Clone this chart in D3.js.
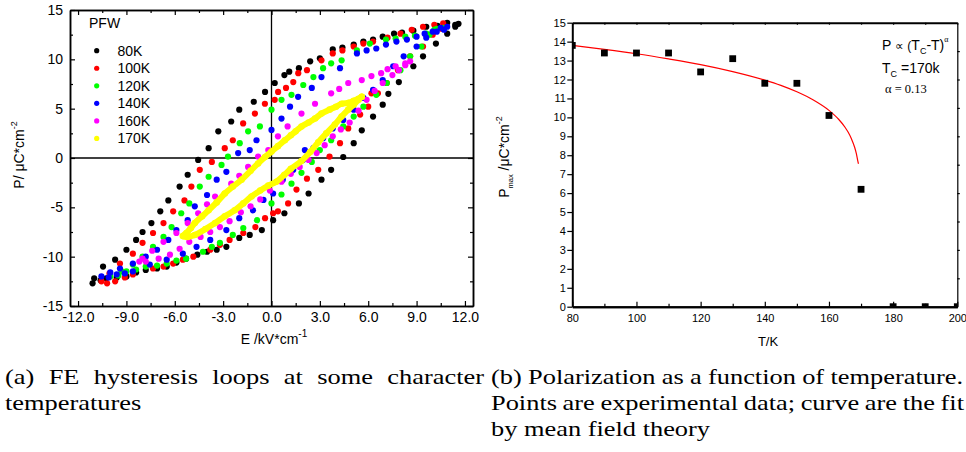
<!DOCTYPE html>
<html><head><meta charset="utf-8">
<script src="https://cdn.jsdelivr.net/npm/d3@7"></script>
<style>
body{margin:0;background:#fff}
svg{display:block}
text{font-family:"Liberation Sans",Arial,sans-serif;fill:#000}
</style>
</head><body>
<svg id="c" width="966" height="452"></svg>
<script>
// ---------- data: left panel (hysteresis loops, E in kV/cm, P in uC/cm^2) ----------
const loopNames = ["80K","100K","120K","140K","160K","170K"];
const loopColors = ["#000000","#ff0000","#00ff00","#0000ff","#ff00ff","#ffff00"];
const loop80 = [[11.4,13.5],[10.9,13.7],[10.3,13.4],[9.6,13.3],[8.8,12.9],[8.1,12.7],[7.6,12.6],[6.9,12.3],[6.3,12.0],[5.7,11.8],[5.1,11.5],[4.4,11.2],[3.8,11.0],[3.0,10.1],[2.4,9.8],[1.7,9.1],[1.1,8.75],[0.8,8.4],[0.2,7.6],[-0.4,6.7],[-1.1,5.7],[-2.0,4.9],[-2.5,3.7],[-3.3,2.7],[-3.9,1.0],[-4.55,-0.2],[-5.2,-1.7],[-5.7,-2.9],[-6.4,-4.3],[-6.9,-5.4],[-7.45,-6.6],[-8.0,-7.5],[-8.4,-8.3],[-9.0,-9.3],[-9.7,-10.3],[-10.45,-11.0],[-11.0,-12.2],[-11.1,-12.7],
  [-10.6,-12.4],[-10.25,-12.2],[-9.6,-12.1],[-9.0,-12.0],[-8.4,-11.6],[-7.8,-11.35],[-7.1,-11.2],[-6.5,-11.0],[-5.9,-10.6],[-5.3,-10.2],[-4.6,-9.8],[-4.0,-9.5],[-3.4,-9.3],[-2.8,-9.0],[-2.0,-8.1],[-1.35,-7.8],[-0.6,-7.3],[0.1,-6.3],[0.8,-5.6],[1.7,-4.6],[2.3,-3.6],[3.1,-2.2],[3.7,-1.2],[4.45,0.1],[5.1,1.5],[5.6,2.8],[6.3,4.2],[6.9,5.4],[7.25,6.5],[7.9,7.7],[8.8,9.3],[9.4,10.3],[10.2,11.6],[10.9,12.6],[11.4,13.3],[11.6,13.6]];
const loop100 = [[10.65,13.65],[10.1,13.5],[9.4,13.3],[8.7,13.0],[8.0,12.6],[7.2,12.2],[6.3,11.8],[5.7,11.6],[5.1,11.3],[4.4,10.9],[3.8,10.6],[3.1,9.9],[2.2,8.9],[1.66,8.6],[1.35,7.7],[0.9,7.1],[0.41,6.7],[0.2,5.9],[-0.41,5.5],[-1.03,4.5],[-1.76,3.5],[-2.4,1.8],[-2.9,1.0],[-3.7,-0.4],[-4.45,-1.2],[-4.97,-2.9],[-5.4,-4.3],[-6.1,-5.4],[-6.7,-6.6],[-7.35,-7.6],[-8.0,-8.6],[-8.6,-9.7],[-9.4,-10.7],[-10.05,-11.7],[-10.55,-12.5],
  [-10.2,-12.7],[-9.7,-12.5],[-9.1,-12.1],[-8.6,-11.8],[-7.35,-11.2],[-6.7,-11.0],[-6.1,-10.7],[-5.5,-10.3],[-4.85,-10.0],[-3.8,-9.3],[-3.2,-8.8],[-2.6,-8.3],[-1.75,-7.6],[-1.0,-7.0],[-0.4,-6.1],[0.1,-5.6],[0.4,-5.4],[1.03,-4.6],[1.55,-3.2],[2.2,-2.1],[2.9,-1.2],[3.6,0.14],[4.25,1.5],[4.76,3.0],[5.5,4.4],[6.0,5.2],[6.2,6.55],[6.6,6.55],[7.15,7.6],[7.85,8.9],[8.6,10.3],[9.4,11.3],[10.0,12.5],[10.55,13.1]];
const loop120 = [[10.65,13.2],[10.1,13.0],[9.6,12.6],[8.9,12.4],[8.3,12.3],[7.7,12.1],[7.1,12.0],[6.1,11.6],[5.3,10.9],[4.35,9.9],[3.7,9.6],[3.2,9.1],[2.6,8.2],[1.97,7.4],[1.24,6.4],[0.62,5.9],[0.0,4.9],[-0.72,3.2],[-1.45,2.7],[-1.97,1.5],[-2.7,0.14],[-3.1,-0.7],[-3.9,-1.9],[-4.45,-2.9],[-5.1,-4.6],[-5.6,-5.6],[-6.2,-7.0],[-6.7,-8.0],[-7.35,-9.0],[-8.0,-10.0],[-8.6,-10.8],[-9.3,-11.5],[-10.0,-12.0],
  [-9.5,-11.9],[-9.0,-11.5],[-8.4,-11.3],[-7.8,-11.0],[-7.1,-10.9],[-6.5,-10.7],[-5.9,-10.4],[-5.3,-10.2],[-4.25,-9.5],[-3.7,-9.0],[-3.2,-8.6],[-2.4,-7.8],[-1.75,-7.1],[-0.9,-6.3],[0.0,-4.6],[0.62,-3.7],[1.24,-2.6],[1.86,-1.5],[2.5,-0.4],[3.0,0.8],[3.7,1.8],[4.45,3.2],[5.1,4.2],[5.7,5.2],[6.5,6.4],[7.15,7.6],[8.0,8.9],[8.6,10.3],[9.3,11.3],[9.8,12.5],[10.25,13.1]];
const loop140 = [[10.9,13.3],[10.5,13.2],[10.0,12.8],[9.5,12.6],[9.0,12.3],[8.4,12.0],[7.75,11.8],[7.1,11.5],[6.5,11.1],[5.9,10.9],[5.3,10.6],[4.25,9.1],[3.1,8.2],[2.5,7.1],[1.65,6.2],[1.15,5.2],[0.62,4.0],[0.0,2.85],[-0.93,1.8],[-1.35,0.8],[-2.07,0.5],[-2.8,-1.4],[-3.4,-2.2],[-4.0,-3.75],[-4.76,-4.9],[-5.2,-6.3],[-5.9,-7.3],[-6.4,-8.3],[-7.1,-9.3],[-7.8,-10.0],[-8.6,-10.7],[-9.4,-11.2],[-10.0,-11.6],[-10.55,-12.0],
  [-10.1,-12.1],[-9.6,-11.8],[-9.1,-11.7],[-8.6,-11.5],[-7.55,-10.8],[-6.5,-10.3],[-5.5,-9.7],[-4.65,-9.0],[-3.8,-8.3],[-2.8,-7.3],[-2.0,-6.1],[-1.15,-5.3],[-0.5,-4.25],[0.1,-3.6],[0.7,-2.2],[1.35,-1.2],[2.07,0.8],[1.95,-0.2],[2.6,1.0],[3.2,2.0],[3.8,3.0],[4.45,3.85],[5.1,4.9],[5.7,6.1],[6.3,6.9],[6.9,7.9],[7.55,9.3],[8.2,10.3],[9.0,11.3],[9.6,12.2],[10.25,12.8],[10.7,13.0]];
const loop160 = [[8.6,9.8],[8.3,9.6],[7.7,9.3],[7.2,9.0],[6.8,8.6],[6.2,8.3],[5.6,7.9],[4.76,7.6],[4.2,7.0],[3.7,6.55],[2.7,5.5],[1.86,4.5],[1.0,3.2],[0.4,2.2],[-0.2,0.8],[-0.83,0.14],[-1.45,-0.9],[-2.0,-1.8],[-2.5,-2.6],[-3.5,-3.9],[-4.0,-4.7],[-4.55,-5.6],[-5.2,-6.6],[-5.9,-7.6],[-6.7,-8.5],[-7.4,-9.4],[-8.0,-10.2],[-8.2,-10.5],
  [-7.8,-10.5],[-7.0,-10.2],[-6.3,-9.8],[-5.7,-9.2],[-5.1,-8.5],[-4.4,-8.0],[-3.8,-7.5],[-3.2,-7.0],[-2.6,-6.4],[-1.9,-5.5],[-1.3,-4.9],[-0.7,-4.2],[-0.1,-3.3],[0.62,-2.4],[1.2,-1.6],[1.75,-0.9],[2.3,-0.2],[2.8,0.5],[3.3,1.3],[3.8,2.2],[4.3,2.9],[4.85,3.6],[5.4,4.8],[5.9,5.9],[6.4,6.8],[6.9,7.6],[7.5,8.4],[7.9,8.9],[8.3,9.4]];
const loop170 = [[5.6,6.2],[5.4,6.0],[5.1,5.8],[4.8,5.6],[4.35,5.5],[4.0,5.2],[3.6,4.9],[3.1,4.5],[2.7,4.0],[2.3,3.6],[1.86,3.2],[1.5,2.7],[1.2,2.3],[0.83,1.8],[0.4,1.2],[0.0,0.65],[-0.4,0.1],[-0.83,-0.55],[-1.3,-1.3],[-1.86,-2.2],[-2.4,-2.9],[-2.9,-3.6],[-3.4,-4.5],[-3.9,-5.3],[-4.3,-5.9],[-4.76,-6.6],[-5.0,-7.1],[-5.28,-7.6],[-5.5,-7.9],
  [-5.2,-8.0],[-4.76,-7.8],[-4.1,-7.2],[-3.5,-6.6],[-2.9,-5.9],[-2.28,-5.3],[-1.75,-4.6],[-1.24,-3.9],[-0.7,-3.3],[-0.2,-2.8],[0.3,-2.4],[0.8,-1.7],[1.2,-1.1],[1.86,-0.3],[2.4,0.6],[2.9,1.6],[3.4,2.5],[3.93,3.4],[4.35,4.2],[4.76,4.9],[5.1,5.4],[5.4,5.9],[5.6,6.2]];
const loops = [loop80, loop100, loop120, loop140, loop160, loop170];
const eMajorTicks = [-12,-9,-6,-3,0,3,6,9,12];
const eMinorTicks = [-10.5,-7.5,-4.5,-1.5,1.5,4.5,7.5,10.5];
const pMajorTicks = [-15,-10,-5,0,5,10,15];
const pMinorTicks = [-12.5,-7.5,-2.5,2.5,7.5,12.5];

// ---------- data: right panel (Pmax vs T) ----------
const tempK = [80,90,100,110,120,130,140,150,160,170,180,190,200];
const pmax  = [13.8,13.4,13.4,13.4,12.4,13.1,11.8,11.8,10.1,6.2,0,0,0];
const fitT  = [80,90,100,110,120,130,140,145,150,155,160,163,165,166,167,168,168.5,169,169.2];
const fitP  = [13.8,13.59,13.36,13.09,12.79,12.42,11.97,11.69,11.35,10.93,10.37,9.9,9.48,9.21,8.87,8.42,8.11,7.69,7.55];
const tMajorTicks = [80,100,120,140,160,180,200];
const tMinorTicks = [90,110,130,150,170,190];
const pmaxTicks = [0,1,2,3,4,5,6,7,8,9,10,11,12,13,14,15];
const pmaxRightTicks = [1.5,3,4.5,6,7.5,9,10.5,12,13.5];

const svg = d3.select("#c");

// ================= LEFT PANEL =================
const L = {l:70, r:473, t:10, b:306};
const xE = d3.scaleLinear().domain([-12.5,12.5]).range([L.l, L.r]);
const yP = d3.scaleLinear().domain([-15,15]).range([L.b, L.t]);

const gl = svg.append("g");
gl.append("defs").append("clipPath").attr("id","clipL")
  .append("rect").attr("x",L.l).attr("y",L.t).attr("width",L.r-L.l).attr("height",L.b-L.t);

// zero lines
gl.append("line").attr("x1",xE(-12.5)).attr("x2",xE(12.5)).attr("y1",yP(0)).attr("y2",yP(0))
  .attr("stroke","#000").attr("stroke-width",1.3);
gl.append("line").attr("x1",xE(0)).attr("x2",xE(0)).attr("y1",yP(-15)).attr("y2",yP(15))
  .attr("stroke","#000").attr("stroke-width",1.3);

// loops
const line = d3.line().x(d=>xE(d[0])).y(d=>yP(d[1])).curve(d3.curveCatmullRom);
const pts = gl.append("g").attr("clip-path","url(#clipL)");
loops.forEach((lp,i)=>{
  if (i===5) {
    pts.append("path").datum(lp).attr("d",line).attr("fill","none")
      .attr("stroke",loopColors[i]).attr("stroke-width",6).attr("stroke-linecap","round").attr("stroke-linejoin","round");
  }
  pts.append("g").selectAll("circle").data(lp).join("circle")
    .attr("cx",d=>xE(d[0])).attr("cy",d=>yP(d[1])).attr("r", i===5?3.3:3.1)
    .attr("fill",loopColors[i]);
});

function styleAxis(g, w){
  g.selectAll(".domain").attr("stroke","#000").attr("stroke-width",w);
  g.selectAll(".tick line").attr("stroke","#000").attr("stroke-width",1.2);
  g.selectAll("text").attr("fill","#000").style("font-family",'"Liberation Sans",Arial,sans-serif');
}
const fmt1 = d3.format(".1f");
// bottom
let a = gl.append("g").attr("transform",`translate(0,${L.b})`)
  .call(d3.axisBottom(xE).tickValues(eMajorTicks).tickSize(-5).tickSizeOuter(0).tickPadding(6)
    .tickFormat(d=>fmt1(d).replace("−","-")));
a.selectAll("text").attr("font-size",14);
styleAxis(a,1.5);
a = gl.append("g").attr("transform",`translate(0,${L.b})`)
  .call(d3.axisBottom(xE).tickValues(eMinorTicks).tickSize(-3).tickSizeOuter(0).tickFormat(""));
styleAxis(a,1.5);
// top
a = gl.append("g").attr("transform",`translate(0,${L.t})`)
  .call(d3.axisTop(xE).tickValues(eMajorTicks).tickSize(-5).tickSizeOuter(0).tickFormat(""));
styleAxis(a,1.5);
a = gl.append("g").attr("transform",`translate(0,${L.t})`)
  .call(d3.axisTop(xE).tickValues(eMinorTicks).tickSize(-3).tickSizeOuter(0).tickFormat(""));
styleAxis(a,1.5);
// left
a = gl.append("g").attr("transform",`translate(${L.l},0)`)
  .call(d3.axisLeft(yP).tickValues(pMajorTicks).tickSize(-5).tickSizeOuter(0).tickPadding(7)
    .tickFormat(d=>String(d)));
a.selectAll("text").attr("font-size",14);
styleAxis(a,1.5);
a = gl.append("g").attr("transform",`translate(${L.l},0)`)
  .call(d3.axisLeft(yP).tickValues(pMinorTicks).tickSize(-3).tickSizeOuter(0).tickFormat(""));
styleAxis(a,1.5);
// right
a = gl.append("g").attr("transform",`translate(${L.r},0)`)
  .call(d3.axisRight(yP).tickValues(pMajorTicks).tickSize(-5).tickSizeOuter(0).tickFormat(""));
styleAxis(a,1.5);
a = gl.append("g").attr("transform",`translate(${L.r},0)`)
  .call(d3.axisRight(yP).tickValues(pMinorTicks).tickSize(-3).tickSizeOuter(0).tickFormat(""));
styleAxis(a,1.5);

// axis titles
let t = gl.append("text").attr("x",274).attr("y",344).attr("text-anchor","middle").attr("font-size",14);
t.append("tspan").text("E /kV*cm");
t.append("tspan").attr("font-size",10).attr("dy",-7).text("-1");
t = gl.append("text").attr("transform","translate(24,155) rotate(-90)").attr("text-anchor","middle").attr("font-size",14);
t.append("tspan").text("P/ \u03bcC*cm");
t.append("tspan").attr("font-size",9).attr("dy",-7).text("-2");

// legend
gl.append("text").attr("x",89).attr("y",28).attr("font-size",14).text("PFW");
loopNames.forEach((n,i)=>{
  const y = 50.7 + i*17.55;
  gl.append("circle").attr("cx",96.7).attr("cy",y).attr("r",2.6).attr("fill",loopColors[i]);
  gl.append("text").attr("x",117.5).attr("y",y+5).attr("font-size",14).text(n);
});

// ================= RIGHT PANEL =================
const R = {l:572.3, r:957.3, t:22.7, b:306.7};
const xT = d3.scaleLinear().domain([80,200]).range([R.l, R.r]);
const yM = d3.scaleLinear().domain([0,15]).range([R.b, R.t]);
const gr = svg.append("g");
gr.append("defs").append("clipPath").attr("id","clipR")
  .append("rect").attr("x",R.l).attr("y",R.t).attr("width",R.r-R.l).attr("height",R.b-R.t);

// fit curve
const fitLine = d3.line().x(d=>xT(d[0])).y(d=>yM(d[1])).curve(d3.curveMonotoneX);
gr.append("path").datum(fitT.map((v,i)=>[v,fitP[i]])).attr("d",fitLine)
  .attr("fill","none").attr("stroke","#ff0000").attr("stroke-width",1.2).attr("clip-path","url(#clipR)");
// points
gr.append("g").attr("clip-path","url(#clipR)").selectAll("rect").data(tempK.map((v,i)=>[v,pmax[i]])).join("rect")
  .attr("x",d=>xT(d[0])-3.4).attr("y",d=>yM(d[1])-3.4).attr("width",6.8).attr("height",6.8).attr("fill","#000");

// axes
a = gr.append("g").attr("transform",`translate(0,${R.b})`)
  .call(d3.axisBottom(xT).tickValues(tMajorTicks).tickSize(-5).tickSizeOuter(0).tickPadding(7.5).tickFormat(d=>String(d)));
a.selectAll("text").attr("font-size",11);
styleAxis(a,2);
a = gr.append("g").attr("transform",`translate(0,${R.b})`)
  .call(d3.axisBottom(xT).tickValues(tMinorTicks).tickSize(-3).tickSizeOuter(0).tickFormat(""));
styleAxis(a,2);
a = gr.append("g").attr("transform",`translate(${R.l},0)`)
  .call(d3.axisLeft(yM).tickValues(pmaxTicks).tickSize(5).tickSizeOuter(0).tickPadding(1.5).tickFormat(d=>String(d)));
a.selectAll("text").attr("font-size",11);
styleAxis(a,2);
a = gr.append("g").attr("transform",`translate(0,${R.t})`)
  .call(d3.axisTop(xT).tickValues(tMajorTicks.concat(tMinorTicks)).tickSize(-2).tickSizeOuter(0).tickFormat(""));
styleAxis(a,2);
a = gr.append("g").attr("transform",`translate(${R.r},0)`)
  .call(d3.axisRight(yM).tickValues(pmaxRightTicks).tickSize(2.5).tickSizeOuter(0).tickFormat(""));
styleAxis(a,1.2);

// titles
gr.append("text").attr("x",768).attr("y",346).attr("text-anchor","middle").attr("font-size",13).text("T/K");
t = gr.append("text").attr("transform","translate(509,157) rotate(-90)").attr("text-anchor","middle").attr("font-size",14);
t.append("tspan").text("P");
t.append("tspan").attr("font-size",7.5).attr("dy",4).text("max");
t.append("tspan").attr("dy",-4).text(" /\u03bcC*cm");
t.append("tspan").attr("font-size",9).attr("dy",-7).text("-2");

// annotation
t = gr.append("text").attr("x",882).attr("y",50).attr("font-size",14);
t.append("tspan").text("P ");
t.append("tspan").attr("font-size",12).text("\u221d (");
t.append("tspan").attr("font-size",14).text("T");
t.append("tspan").attr("font-size",9).attr("dy",4).text("C");
t.append("tspan").attr("font-size",14).attr("dy",-4).text("-T)");
t.append("tspan").attr("font-size",8).attr("dy",-8).style("font-family",'"Liberation Serif",serif').text("\u03b1");
t = gr.append("text").attr("x",882).attr("y",73).attr("font-size",14);
t.append("tspan").text("T");
t.append("tspan").attr("font-size",9).attr("dy",4).text("C");
t.append("tspan").attr("dy",-4).text(" =170k");
gr.append("text").attr("x",885).attr("y",93).attr("font-size",12.5)
  .style("font-family",'"Liberation Serif","Times New Roman",serif').text("\u03b1  = 0.13");

// ================= CAPTIONS =================
const sx = 1.2;
function cap(x, y, str, target){
  const g = svg.append("g").attr("transform",`translate(${x},${y}) scale(${sx},1)`);
  const tx = g.append("text").attr("x",0).attr("y",0).attr("font-size",22)
    .style("font-family",'"Liberation Serif","Times New Roman",serif').text(str);
  if (target){
    const n = str.split(" ").length-1;
    const w = tx.node().getComputedTextLength();
    tx.attr("word-spacing", (target/sx - w)/n);
  }
}
cap(5,384,"(a) FE hysteresis loops at some character",479);
cap(5,410,"temperatures");
cap(491,384,"(b) Polarization as a function of temperature.",472);
cap(491,410,"Points are experimental data; curve are the fit",473);
cap(491,436,"by mean field theory");
</script>
</body></html>
